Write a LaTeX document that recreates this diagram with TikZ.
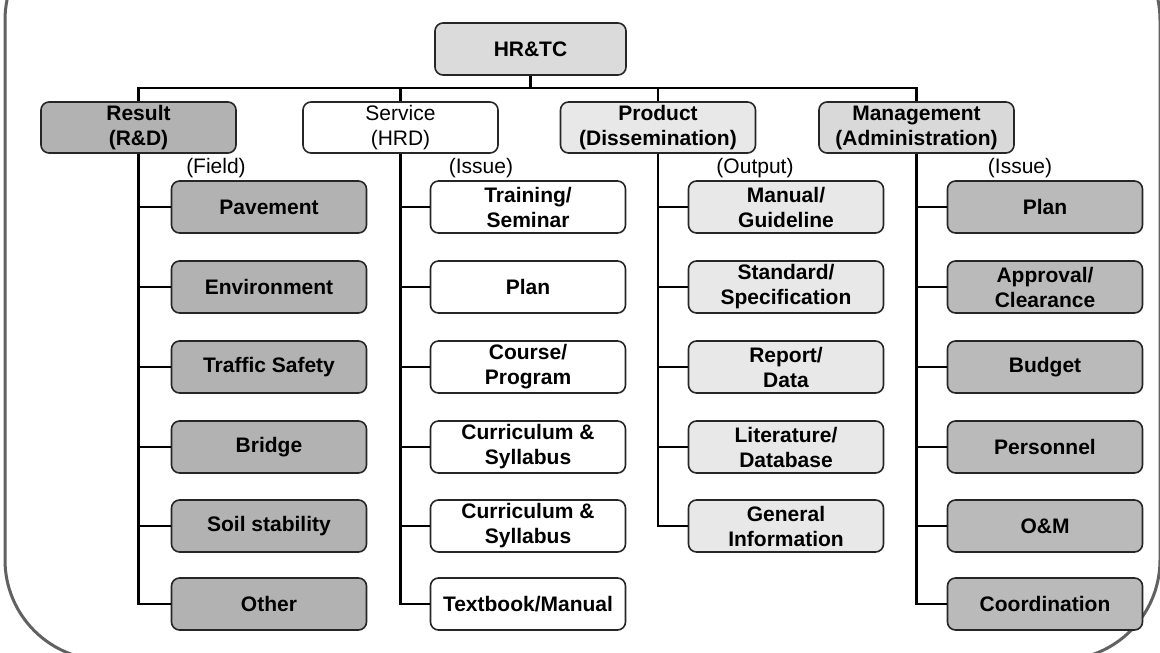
\documentclass[tikz,border=0pt]{standalone}
\usepackage{fontspec}
\setmainfont{Liberation Sans}
\begin{document}
\begin{tikzpicture}[x=1pt,y=-1pt,
  box/.style={draw=black!85, line width=1.6pt, rounded corners=8pt, align=center,
    font=\fontsize{21}{25}\selectfont\bfseries, inner sep=0pt,
    minimum width=195pt, minimum height=52pt},
  head/.style={box, minimum height=51pt},
  lbl/.style={font=\fontsize{21}{25}\selectfont, inner sep=0pt},
  conn/.style={line width=2.8pt, black},
  frame/.style={line width=3pt, black!62},
  fres/.style={fill=black!30},
  fhr/.style={fill=black!14},
  fsrv/.style={fill=white},
  fprd/.style={fill=black!9},
  fmgh/.style={fill=black!15},
  fmg/.style={fill=black!27}]
\path[use as bounding box] (0,0) rectangle (1160,653);
\begin{scope}
\clip (0,0) rectangle (1160,653);
\draw[frame, rounded corners=100pt] (5,-80) rectangle (1160,660);
\end{scope}

% top
\node[box, fhr, minimum width=191pt] (hr) at (530.5,49) {HR\&TC};
\coordinate (bus) at (530.5,88);

% headers
\node[head, fres] (res) at (138.5,127.5) {Result\\(R\&D)};
\node[head, fsrv, font=\fontsize{21}{25}\selectfont] (srv) at (400.5,127.5) {Service\\(HRD)};
\node[head, fprd] (prd) at (658,127.5) {Product\\(Dissemination)};
\node[head, fmgh] (mgt) at (916.5,127.5) {Management\\(Administration)};

% labels
\node[lbl] (l1) at (216,168) {(Field)};
\node[lbl] (l2) at (481,168) {(Issue)};
\node[lbl] (l3) at (755,168) {(Output)};
\node[lbl] (l4) at (1020,168) {(Issue)};

% Result children
\node[box, fres] (r1) at (269,207) {Pavement};
\node[box, fres] (r2) at (269,287) {Environment};
\node[box, fres] (r3) at (269,367) {Traffic Safety};
\node[box, fres] (r4) at (269,447) {Bridge};
\node[box, fres] (r5) at (269,526) {Soil stability};
\node[box, fres] (r6) at (269,604) {Other};

% Service children
\node[box, fsrv] (s1) at (528,207) {Training/\\Seminar};
\node[box, fsrv] (s2) at (528,287) {Plan};
\node[box, fsrv] (s3) at (528,367) {Course/\\Program};
\node[box, fsrv] (s4) at (528,447) {Curriculum \&\\Syllabus};
\node[box, fsrv] (s5) at (528,526) {Curriculum \&\\Syllabus};
\node[box, fsrv] (s6) at (528,604) {Textbook/Manual};

% Product children
\node[box, fprd] (p1) at (786,207) {Manual/\\Guideline};
\node[box, fprd] (p2) at (786,287) {Standard/\\Specification};
\node[box, fprd] (p3) at (786,367) {Report/\\Data};
\node[box, fprd] (p4) at (786,447) {Literature/\\Database};
\node[box, fprd] (p5) at (786,526) {General\\Information};

% Management children
\node[box, fmg] (m1) at (1045,207) {Plan};
\node[box, fmg] (m2) at (1045,287) {Approval/\\Clearance};
\node[box, fmg] (m3) at (1045,367) {Budget};
\node[box, fmg] (m4) at (1045,447) {Personnel};
\node[box, fmg] (m5) at (1045,526) {O\&M};
\node[box, fmg] (m6) at (1045,604) {Coordination};

% connectors
\draw[conn] (hr.south) -- (bus);
\draw[conn] (res.north) |- (bus);
\draw[conn] (mgt.north) |- (bus);
\draw[conn] (srv.north) -- (srv.north |- bus);
\draw[conn] (prd.north) -- (prd.north |- bus);

\foreach \c in {r1,r2,r3,r4,r5,r6} \draw[conn] (res.south) |- (\c.west);
\foreach \c in {s1,s2,s3,s4,s5,s6} \draw[conn] (srv.south) |- (\c.west);
\foreach \c in {p1,p2,p3,p4,p5} \draw[conn] (prd.south) |- (\c.west);
\foreach \c in {m1,m2,m3,m4,m5,m6} \draw[conn] (mgt.south) |- (\c.west);
\end{tikzpicture}
\end{document}
